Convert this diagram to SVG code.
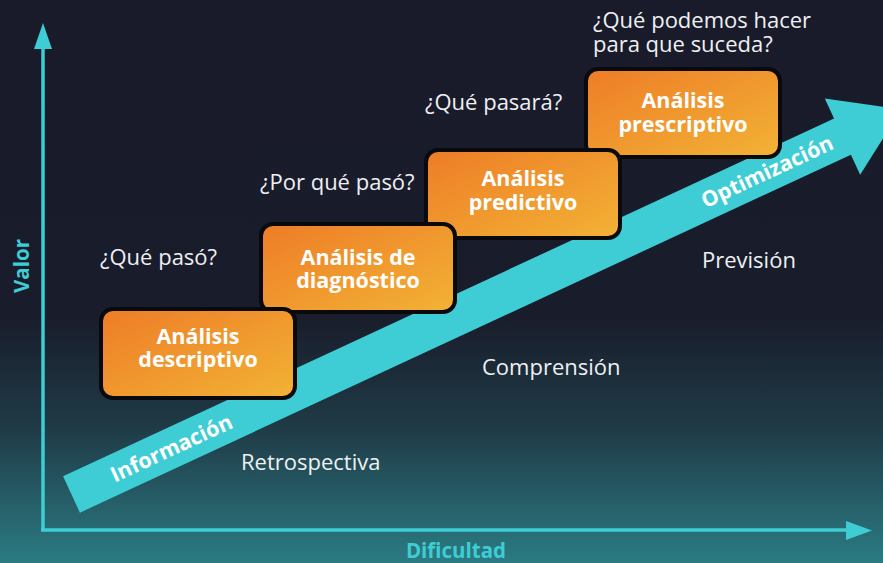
<svg xmlns="http://www.w3.org/2000/svg" width="883" height="563" viewBox="0 0 883 563">
<defs>
<linearGradient id="bg" x1="0" y1="0" x2="0" y2="1">
<stop offset="0" stop-color="#191b2a"/>
<stop offset="0.56" stop-color="#191c2b"/>
<stop offset="0.76" stop-color="#1f3b46"/>
<stop offset="1" stop-color="#2b7b83"/>
</linearGradient>
<linearGradient id="box" x1="0" y1="0" x2="1" y2="1">
<stop offset="0" stop-color="#ee7c27"/>
<stop offset="1" stop-color="#f2b335"/>
</linearGradient>
<style>
.box{fill:url(#box);stroke:#0a0a0c;stroke-width:4}
.bt{font-family:"Open Sans",Lato,sans-serif;font-weight:700;font-size:21.5px;fill:#ffffff;text-anchor:middle}
.lbl{font-family:"Open Sans",Lato,sans-serif;font-size:22px;fill:#eef0f2}
.ax{font-family:"Open Sans",Lato,sans-serif;font-weight:700;font-size:20.5px;fill:#3ecdd4;text-anchor:middle}
.bandt{font-family:"Open Sans",Lato,sans-serif;font-weight:700;font-size:21.5px;fill:#ffffff;text-anchor:middle}
.axis{stroke:#3ecdd4;stroke-width:3.5;fill:none}
</style>
</defs>
<rect x="0" y="0" width="883" height="563" fill="url(#bg)"/>
<g id="connectors">
<path class="axis" d="M43,530 L43,47 M41,530 L848,530"/>
<polygon points="43,23 34,49 52,49" fill="#3ecdd4"/>
<polygon points="872,530.5 846,521 846,540" fill="#3ecdd4"/>
<g id="band" transform="translate(71.5,494.5) rotate(-24.9)">
<path d="M0,-20 L850,-20 L850,-42 L915,0 L850,42 L850,20 L0,20 Z" fill="#3ecdd4"/>
<text class="bandt" x="110" y="7.5">Información</text>
<text class="bandt" x="767" y="7.5">Optimización</text>
</g>
</g>
<g id="axis-labels">
<text class="ax" transform="translate(29,266) rotate(-90)" x="0" y="0">Valor</text>
<text class="ax" x="456" y="558">Dificultad</text>
</g>
<g id="labels">
<text class="lbl" x="100" y="265">¿Qué pasó?</text>
<text class="lbl" x="260" y="190">¿Por qué pasó?</text>
<text class="lbl" x="425" y="110">¿Qué pasará?</text>
<text class="lbl" x="593" y="28">¿Qué podemos hacer<tspan x="593" dy="24">para que suceda?</tspan></text>
<text class="lbl" x="702" y="268">Previsión</text>
<text class="lbl" x="482" y="375">Comprensión</text>
<text class="lbl" x="241" y="470">Retrospectiva</text>
</g>
<g id="node-prescriptivo">
<rect class="box" x="586" y="69" width="194" height="88" rx="12"/>
<text class="bt" x="683" y="108">Análisis<tspan x="683" dy="24">prescriptivo</tspan></text>
</g>
<g id="node-predictivo">
<rect class="box" x="426" y="150" width="194" height="88" rx="12"/>
<text class="bt" x="523" y="186">Análisis<tspan x="523" dy="24">predictivo</tspan></text>
</g>
<g id="node-diagnostico">
<rect class="box" x="261" y="224" width="194" height="88" rx="12"/>
<text class="bt" x="358" y="265">Análisis de<tspan x="358" dy="23">diagnóstico</tspan></text>
</g>
<g id="node-descriptivo">
<rect class="box" x="101" y="309" width="194" height="89" rx="12"/>
<text class="bt" x="198" y="344">Análisis<tspan x="198" dy="23">descriptivo</tspan></text>
</g>
</svg>
